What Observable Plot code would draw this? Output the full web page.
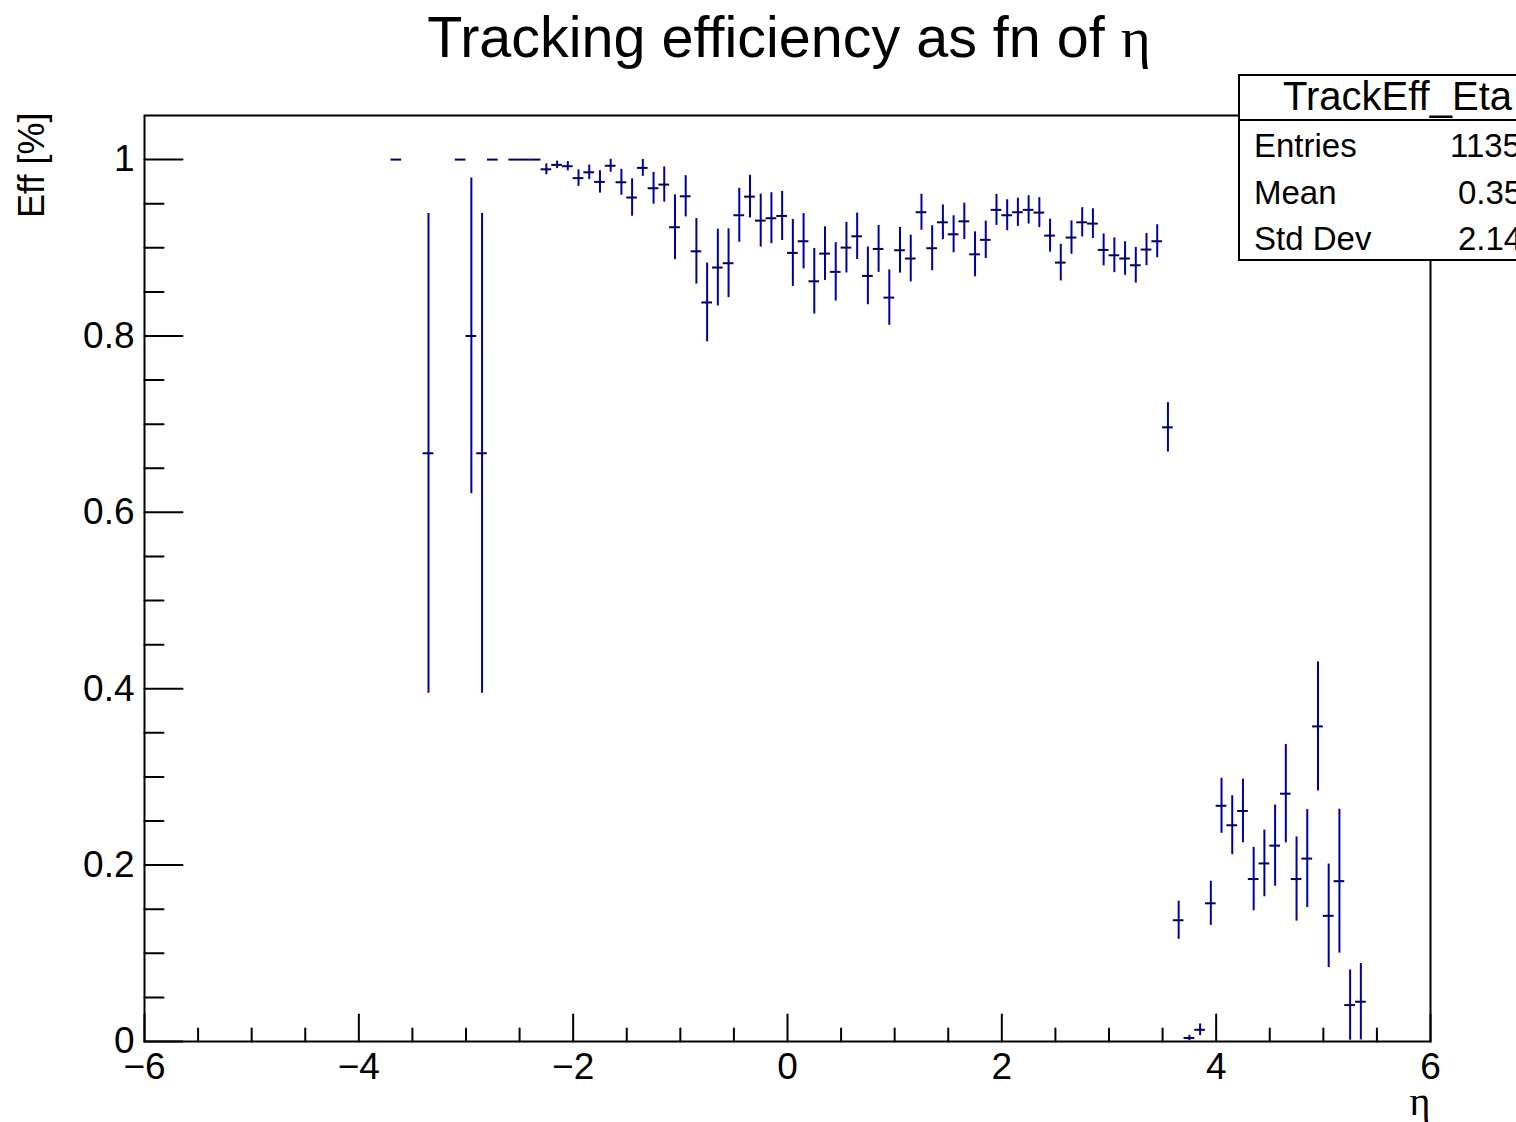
<!DOCTYPE html>
<html>
<head>
<meta charset="utf-8">
<script src="https://cdn.jsdelivr.net/npm/d3@7"></script>
<script src="https://cdn.jsdelivr.net/npm/@observablehq/plot@0.6"></script>
<style>
  html, body { margin: 0; padding: 0; background: #fff; overflow: hidden; width: 1516px; height: 1122px; }
  #wrap { position: relative; width: 1516px; height: 1122px; font-family: "Liberation Sans", Arial, Helvetica, sans-serif; color: #000; }
  #wrap svg { position: absolute; left: 0; top: 0; }
  .abs { position: absolute; white-space: nowrap; line-height: 1; }
  #title { top: 9px; left: 789px; transform: translateX(-50%); font-size: 57.5px; }
  .greek { font-family: "Liberation Serif", "DejaVu Serif", serif; }
  #statsBox { position: absolute; left: 1238px; top: 74px; width: 340px; height: 187px; box-sizing: border-box; border: 2px solid #000; background: #fff; }
  #statsSep { position: absolute; left: 1238px; top: 119px; width: 340px; height: 2px; background: #000; }
  .hdr { font-size: 40px; }
  .row { font-size: 33px; }
</style>
</head>
<body>
<div id="wrap">
  <div id="chart"></div>
  <div class="abs" id="title">Tracking efficiency as fn of <span class="greek">η</span></div>
  <div id="statsBox"></div>
  <div id="statsSep"></div>
  <div class="abs hdr" style="left:1283px; top:76px;">TrackEff_Eta</div>
  <div class="abs row" style="left:1254px; top:129px;">Entries</div>
  <div class="abs row" style="left:1450px; top:129px;">1135</div>
  <div class="abs row" style="left:1254px; top:176px;">Mean</div>
  <div class="abs row" style="left:1458px; top:176px;">0.35</div>
  <div class="abs row" style="left:1254px; top:222px;">Std Dev</div>
  <div class="abs row" style="left:1458px; top:222px;">2.14</div>
</div>
<script>
// Bin centres in eta (bin width 0.1) with their tracking efficiency and binomial error
const etaCenters = [
  -3.65, -3.35, -3.05, -2.95, -2.85, -2.75, -2.55, -2.45, -2.35, -2.25,
  -2.15, -2.05, -1.95, -1.85, -1.75, -1.65, -1.55, -1.45, -1.35, -1.25,
  -1.15, -1.05, -0.95, -0.85, -0.75, -0.65, -0.55, -0.45, -0.35, -0.25,
  -0.15, -0.05, 0.05, 0.15, 0.25, 0.35, 0.45, 0.55, 0.65, 0.75,
  0.85, 0.95, 1.05, 1.15, 1.25, 1.35, 1.45, 1.55, 1.65, 1.75,
  1.85, 1.95, 2.05, 2.15, 2.25, 2.35, 2.45, 2.55, 2.65, 2.75,
  2.85, 2.95, 3.05, 3.15, 3.25, 3.35, 3.45, 3.55, 3.65, 3.75,
  3.85, 3.95, 4.05, 4.15, 4.25, 4.35, 4.45, 4.55, 4.65, 4.75,
  4.85, 4.95, 5.05, 5.15, 5.25, 5.35
];
const efficiency = [
  1, 0.667, 1, 0.800, 0.667, 1, 1, 1, 1, 0.989,
  0.994, 0.9925, 0.979, 0.9856, 0.9747, 0.993, 0.9743, 0.957, 0.9906, 0.9675,
  0.9717, 0.9233, 0.9584, 0.896, 0.838, 0.8776, 0.8825, 0.9369, 0.958, 0.9308,
  0.9335, 0.9361, 0.8942, 0.9074, 0.862, 0.8934, 0.8727, 0.9002, 0.913, 0.8681,
  0.8987, 0.8435, 0.8972, 0.8878, 0.9403, 0.8995, 0.9289, 0.9153, 0.930, 0.8926,
  0.909, 0.943, 0.9369, 0.9403, 0.943, 0.9399, 0.9138, 0.8832, 0.9116, 0.9289,
  0.9274, 0.8976, 0.8915, 0.8878, 0.8802, 0.898, 0.9074, 0.6964, 0.1375, 0.004,
  0.0133, 0.1567, 0.2673, 0.2452, 0.2614, 0.1842, 0.2019, 0.2221, 0.281, 0.1842,
  0.2074, 0.3573, 0.1425, 0.1818, 0.0413, 0.0451
];
const effError = [
  0, 0.272, 0, 0.179, 0.272, 0, 0, 0, 0, 0.0062,
  0.0042, 0.0053, 0.0094, 0.0083, 0.0127, 0.0074, 0.0147, 0.0212, 0.0096, 0.018,
  0.020, 0.0367, 0.0234, 0.0372, 0.0447, 0.0435, 0.039, 0.0306, 0.0242, 0.030,
  0.0289, 0.0278, 0.038, 0.0314, 0.0372, 0.0304, 0.0331, 0.0287, 0.0263, 0.0327,
  0.0266, 0.0314, 0.0259, 0.0265, 0.0204, 0.0255, 0.0197, 0.021, 0.0206, 0.0255,
  0.0212, 0.0176, 0.0176, 0.016, 0.016, 0.017, 0.0187, 0.0208, 0.0189, 0.0166,
  0.0168, 0.0181, 0.0197, 0.019, 0.0202, 0.0183, 0.0187, 0.028, 0.0216, 0.003,
  0.0066, 0.025, 0.0312, 0.0334, 0.0361, 0.0359, 0.0378, 0.046, 0.0558, 0.0477,
  0.0555, 0.0732, 0.0587, 0.0816, 0.0398, 0.0433
];
const binWidth = 0.1;

// Axis tick values
const xMajorTicks = [-6, -4, -2, 0, 2, 4, 6];
const xMinorTicks = [-5.5, -5, -4.5, -3.5, -3, -2.5, -1.5, -1, -0.5, 0.5, 1, 1.5, 2.5, 3, 3.5, 4.5, 5, 5.5];
const yMajorTicks = [0, 0.2, 0.4, 0.6, 0.8, 1];
const yMinorTicks = [0.05, 0.1, 0.15, 0.25, 0.3, 0.35, 0.45, 0.5, 0.55, 0.65, 0.7, 0.75, 0.85, 0.9, 0.95];

const bins = etaCenters.map((eta, i) => ({eta, eff: efficiency[i], err: effError[i]}));

const fmtX = d => (d < 0 ? "\u2212" + Math.abs(d) : String(d));
const fmtY = d => String(d);

// A plain line segment for inward-pointing tick marks
const tickLine = {draw(context, l) { context.moveTo(0, 0); context.lineTo(0, -l); }};

const lineBlue = "#00009c";
const barDark = "#000060";

const chart = Plot.plot({
  width: 1516,
  height: 1122,
  marginLeft: 144,
  marginRight: 86,
  marginTop: 115,
  marginBottom: 81,
  x: {domain: [-6, 6], axis: null},
  y: {domain: [0, 1.05], axis: null},
  style: {fontFamily: "'Liberation Sans', Arial, Helvetica, sans-serif", background: "transparent", overflow: "visible"},
  marks: [
    // vertical error bars
    Plot.ruleX(bins.filter(d => d.err > 0), {
      x: "eta", y1: d => d.eff - d.err, y2: d => d.eff + d.err,
      stroke: lineBlue, strokeWidth: 2
    }),
    // horizontal bin-width bars
    Plot.ruleY(bins, {
      y: "eff", x1: d => d.eta - binWidth / 2, x2: d => d.eta + binWidth / 2,
      stroke: barDark, strokeWidth: 2
    }),
    // axis ticks drawn inward from the frame
    Plot.vector(yMajorTicks, {y: d => d, frameAnchor: "left", rotate: 90, length: 38, anchor: "start", shape: tickLine, stroke: "black", strokeWidth: 2}),
    Plot.vector(yMinorTicks, {y: d => d, frameAnchor: "left", rotate: 90, length: 19, anchor: "start", shape: tickLine, stroke: "black", strokeWidth: 2}),
    Plot.vector(xMajorTicks, {x: d => d, frameAnchor: "bottom", rotate: 0, length: 27, anchor: "start", shape: tickLine, stroke: "black", strokeWidth: 2}),
    Plot.vector(xMinorTicks, {x: d => d, frameAnchor: "bottom", rotate: 0, length: 13, anchor: "start", shape: tickLine, stroke: "black", strokeWidth: 2}),
    Plot.frame({stroke: "black", strokeWidth: 2}),
    // tick labels
    Plot.text(xMajorTicks, {x: d => d, frameAnchor: "bottom", lineAnchor: "top", dy: 11, text: fmtX, fontSize: 37, fill: "black"}),
    Plot.text(yMajorTicks, {y: d => d, frameAnchor: "left", textAnchor: "end", dx: -10, text: fmtY, fontSize: 37, fill: "black"}),
    // axis titles
    Plot.text(["Eff [%]"], {frameAnchor: "top-left", dx: -112, dy: -3, rotate: -90, textAnchor: "end", lineAnchor: "middle", text: d => d, fontSize: 36, fill: "black"}),
    Plot.text(["η"], {frameAnchor: "bottom-right", dy: 73, textAnchor: "end", lineAnchor: "bottom", text: d => d, fontSize: 40, fill: "black", fontFamily: "'Liberation Serif', 'DejaVu Serif', serif"})
  ]
});

document.getElementById("chart").appendChild(chart);
</script>
</body>
</html>
